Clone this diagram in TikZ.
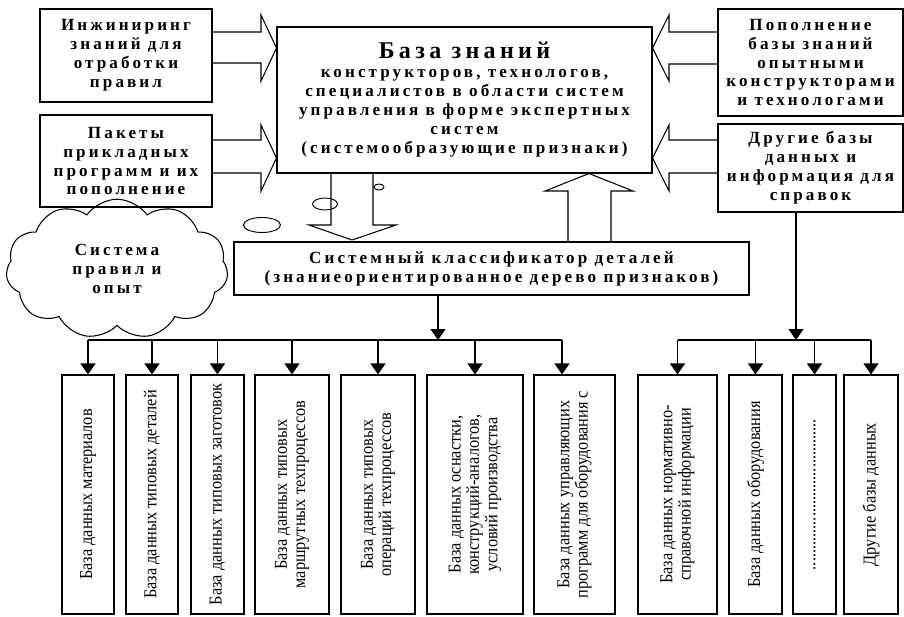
\documentclass[tikz,border=0pt]{standalone}
\usepackage{fontspec}
\setmainfont{Liberation Serif}
\newfontfamily\hdfont[LetterSpace=18]{Liberation Serif}
\newfontfamily\dbfont[FakeStretch=0.9]{Liberation Serif}
\usetikzlibrary{positioning,arrows.meta,shapes.geometric,shapes.symbols}
\tikzset{
  hdbox/.style={draw, line width=0.9pt, align=center, inner sep=0pt, font=\hdfont\bfseries\fontsize{14.6}{16.2}\selectfont},
  dbbox/.style={draw, line width=0.9pt, minimum height=7.17cm, inner sep=0pt},
  dbtext/.style={rotate=90, align=center, inner sep=0pt, font=\dbfont\fontsize{15.5}{15.6}\selectfont},
  blockarrow/.style={line width=0.9pt, line join=miter},
  treearrow/.style={-{Triangle[width=0.45cm, length=0.33cm]}, line width=0.9pt},
  blob/.style={draw, ellipse, line width=0.8pt, inner sep=0pt}
}
\begin{document}
\begin{tikzpicture}[x=0.03cm, y=-0.03cm]
  \useasboundingbox (0,0) rectangle (904,616);

  % top row
  \node[hdbox, minimum width=5.16cm, minimum height=2.79cm] (inz) at (126,55.5) {Инжиниринг\\ знаний для\\ отработки\\ правил};
  \node[hdbox, minimum width=5.16cm, minimum height=2.76cm] (pak) at (126,161) {Пакеты\\ прикладных\\ программ и их\\ пополнение};
  \node[hdbox, minimum width=11.25cm, minimum height=4.38cm] (kb) at (464.5,100)
    {{\fontsize{20.5}{20}\selectfont База знаний}\\ конструкторов, технологов,\\ специалистов в области систем\\ управления в форме экспертных\\ систем\\ (системообразующие признаки)};
  \node[hdbox, minimum width=5.55cm, minimum height=3.21cm] (pop) at (810.5,62.5) {Пополнение\\ базы знаний\\ опытными\\ конструкторами\\ и технологами};
  \node[hdbox, minimum width=5.55cm, minimum height=2.64cm] (odb) at (810.5,168) {Другие базы\\ данных и\\ информация для\\ справок};

  % middle
  \node[hdbox, minimum width=15.45cm, minimum height=1.59cm] (cls) at (491.5,268.5) {Системный классификатор деталей\\ (знаниеориентированное дерево признаков)};
  \node[hdbox, cloud, cloud puffs=11, cloud puff arc=110, minimum width=6.66cm, minimum height=3.05cm] (rules) at (117,269) {Система\\ правил и\\ опыт};
  \node[blob, minimum width=0.75cm, minimum height=0.36cm] (o1) at (325,204) {};
  \node[blob, minimum width=0.3cm, minimum height=0.18cm] (o2) at (379,187) {};
  \node[blob, minimum width=1.11cm, minimum height=0.45cm] (o3) at (262,225) {};

  % block arrows
  \draw[blockarrow] (inz.east |- 0,32) -- (261,32) -- (261,15) -- (kb.west |- 0,48) -- (261,81) -- (261,63) -- (inz.east |- 0,63);
  \draw[blockarrow] (pak.east |- 0,140) -- (261,140) -- (261,125) -- (kb.west |- 0,158) -- (261,191) -- (261,173) -- (pak.east |- 0,173);
  \draw[blockarrow] (pop.west |- 0,32) -- (669,32) -- (669,15) -- (kb.east |- 0,48) -- (669,81) -- (669,64) -- (pop.west |- 0,64);
  \draw[blockarrow] (odb.west |- 0,140) -- (669,140) -- (669,125) -- (kb.east |- 0,158) -- (669,191) -- (669,173) -- (odb.west |- 0,173);
  \draw[blockarrow] (kb.south -| 331,0) -- (331,225) -- (309,225) -- (352,240) -- (396,225) -- (373,225) -- (kb.south -| 373,0);
  \draw[blockarrow] (cls.north -| 568,0) -- (568,191) -- (545,191) -- (kb.south -| 589,0) -- (633,191) -- (611,191) -- (cls.north -| 611,0);

  % bottom row
  \node[dbbox, minimum width=1.56cm, label={[dbtext]center:База данных материалов}] (db1) at (88,494.5) {};
  \node[dbbox, minimum width=1.56cm, label={[dbtext]center:База данных типовых деталей}] (db2) at (152,494.5) {};
  \node[dbbox, minimum width=1.59cm, label={[dbtext]center:База данных типовых заготовок}] (db3) at (217.5,494.5) {};
  \node[dbbox, minimum width=2.22cm, label={[dbtext]center:База данных типовых\\ маршрутных техпроцессов}] (db4) at (292,494.5) {};
  \node[dbbox, minimum width=2.22cm, label={[dbtext]center:База данных типовых\\ операций техпроцессов}] (db5) at (378,494.5) {};
  \node[dbbox, minimum width=2.88cm, label={[dbtext]center:База данных оснастки,\\ конструкций-аналогов,\\ условий производства}] (db6) at (475,494.5) {};
  \node[dbbox, minimum width=2.43cm, label={[dbtext]center:База данных управляющих\\ программ для оборудования с}] (db7) at (574.5,494.5) {};
  \node[dbbox, minimum width=2.37cm, label={[dbtext]center:База данных нормативно-\\ справочной информации}] (db8) at (677.5,494.5) {};
  \node[dbbox, minimum width=1.59cm, label={[dbtext]center:База данных оборудования}] (db9) at (755.5,494.5) {};
  \node[dbbox, minimum width=1.29cm, label={[dbtext]center:.....................................}] (db10) at (814.5,494.5) {};
  \node[dbbox, minimum width=1.62cm, label={[dbtext]center:Другие базы данных}] (db11) at (871,494.5) {};

  % tree links
  \coordinate (busL) at (438,340);
  \coordinate (busR) at (796,340);
  \draw[treearrow] (cls.south -| busL) -- (busL);
  \draw[treearrow] (odb.south -| busR) -- (busR);
  \draw[line width=0.9pt] (busL -| db1.north) -- (busL -| 562,0);
  \draw[line width=0.9pt] (busR -| db8.north) -- (busR -| db11.north);
  \draw[treearrow] (busL -| db1.north) -- (db1.north);
  \draw[treearrow] (busL -| db2.north) -- (db2.north);
  \draw[treearrow] (busL -| db3.north) -- (db3.north);
  \draw[treearrow] (busL -| db4.north) -- (db4.north);
  \draw[treearrow] (busL -| db5.north) -- (db5.north);
  \draw[treearrow] (busL -| db6.north) -- (db6.north);
  \draw[treearrow] (busL -| 562,0) -- (db7.north -| 562,0);
  \draw[treearrow] (busR -| db8.north) -- (db8.north);
  \draw[treearrow] (busR -| db9.north) -- (db9.north);
  \draw[treearrow] (busR -| db10.north) -- (db10.north);
  \draw[treearrow] (busR -| db11.north) -- (db11.north);
\end{tikzpicture}
\end{document}
